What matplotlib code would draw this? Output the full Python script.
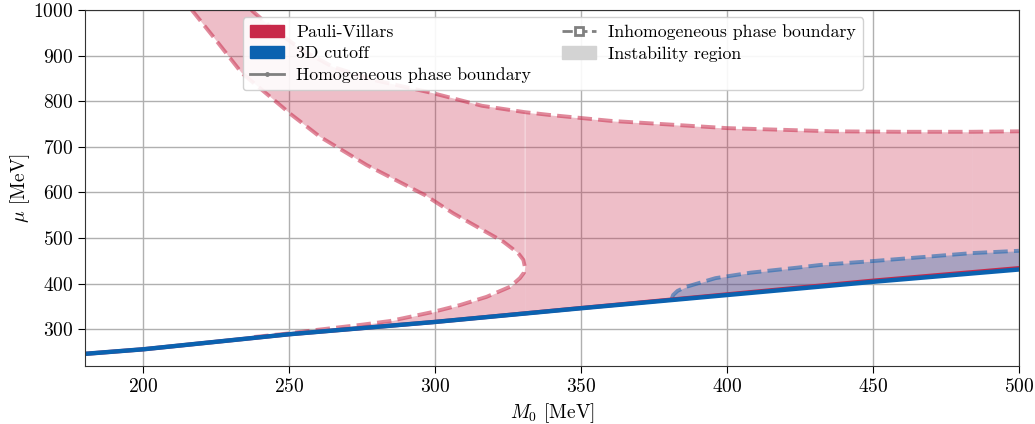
import matplotlib
matplotlib.use("Agg")
import matplotlib.pyplot as plt
import numpy as np
from matplotlib.patches import Patch
from matplotlib.lines import Line2D

plt.rcParams["font.family"] = "serif"
plt.rcParams["font.serif"] = ["cmr10"]
plt.rcParams["mathtext.fontset"] = "cm"
plt.rcParams["axes.formatter.use_mathtext"] = True
plt.rcParams["font.size"] = 14

RED = "#c8294a"
BLUE = "#0b62b0"

# homogeneous phase boundary (mu vs M0)
hom_m0 = [180, 200, 250, 300, 350, 400, 450, 500]
hom_pv = [246, 256, 289, 316, 346.5, 376.5, 406.5, 434]
hom_3d = [246, 256, 289, 316, 346, 375, 404, 431]

# Pauli-Villars inhomogeneous boundary, lower branch (homogeneous line -> nose)
pv_low_m0 = [238, 250, 260, 275, 284.5, 299.3, 308.5, 317.6, 325.6, 329, 330.4, 330.7]
pv_low_mu = [283, 291, 299, 310, 318, 338, 353, 371, 393, 412, 424, 437]
# continuation from the nose up to the top
pv_left_m0 = [330.7, 330.2, 328.4, 323.3, 315.3, 306.2, 296.5, 276.5, 260.5, 250.8,
              243.4, 233.7, 224, 216.6]
pv_left_mu = [437, 452, 467, 492, 521, 554, 594, 660, 722, 770, 810, 862, 941, 1000]
# upper branch
pv_up_m0 = [237, 245, 255, 265, 280, 299, 316, 330.7, 339, 360, 400, 436, 460, 484, 500]
pv_up_mu = [1000, 955, 910, 875, 845, 818, 790, 776, 770, 757, 741, 734, 733, 733, 734]

# 3D cutoff inhomogeneous boundary
cut_m0 = [381, 381.5, 383, 386, 396, 408, 424, 432, 451, 484, 500]
cut_mu = [366, 375, 384, 393, 412, 424, 435, 441, 450, 467, 472]

fig = plt.figure(figsize=(10.35, 4.24), dpi=100)
ax = fig.add_axes([0.0821, 0.1375, 0.9024, 0.8389])

fill_kw = dict(color=RED, alpha=0.3, linewidth=0)

# lobe between homogeneous line and lower inhomogeneous branch
lx = np.array(pv_low_m0)
ax.fill_between(lx, np.interp(lx, hom_m0, hom_pv), pv_low_mu, **fill_kw)

# band between nose-to-top branch and upper branch
nose = pv_left_m0[0]
up_x = np.array(pv_up_m0)
up_y = np.array(pv_up_mu)
sel = up_x <= nose
poly_x = np.concatenate([pv_left_m0, up_x[sel]])
poly_y = np.concatenate([pv_left_mu, up_y[sel]])
ax.fill(poly_x, poly_y, **fill_kw)

# region right of the nose, split where the data were stitched
for a, b in [(nose, 484), (484, 500)]:
    xs = np.union1d(up_x[(up_x >= a) & (up_x <= b)], [h for h in hom_m0 if a <= h <= b])
    xs = np.union1d(xs, [a, b])
    ax.fill_between(xs, np.interp(xs, hom_m0, hom_pv), np.interp(xs, up_x, up_y), **fill_kw)

# 3D cutoff instability region
cx = np.array(cut_m0)
ax.fill_between(cx, np.interp(cx, hom_m0, hom_pv), cut_mu, color=BLUE, alpha=0.3, linewidth=0)

# inhomogeneous boundaries
ax.plot(pv_low_m0 + pv_left_m0[1:], pv_low_mu + pv_left_mu[1:], "--", color=RED, alpha=0.55, lw=2.8)
ax.plot(pv_up_m0, pv_up_mu, "--", color=RED, alpha=0.55, lw=2.8)
ax.plot(cut_m0, cut_mu, "--", color=BLUE, alpha=0.55, lw=2.8)

# homogeneous boundaries
ax.plot(hom_m0, hom_pv, color=RED, lw=3)
ax.plot(hom_m0, hom_3d, color=BLUE, lw=3.2)

ax.set_xlim(180, 500)
ax.set_ylim(220, 1000)
ax.set_xticks([200, 250, 300, 350, 400, 450, 500])
ax.set_yticks([300, 400, 500, 600, 700, 800, 900, 1000])
ax.grid(True, color="#b0b0b0", lw=1)
ax.set_axisbelow(True)
ax.tick_params(direction="out", length=5, width=0.8)
for s in ax.spines.values():
    s.set_color("#333333")
ax.set_xlabel(r"$M_0$ [MeV]")
ax.set_ylabel(r"$\mu$ [MeV]", labelpad=1)

handles = [
    Patch(color=RED, label="Pauli-Villars"),
    Patch(color=BLUE, label="3D cutoff"),
    Line2D([], [], color="gray", marker="o", ms=2.5, lw=2, label="Homogeneous phase boundary"),
    Line2D([], [], color="gray", ls="--", marker="s", ms=6, mfc="white", mew=2, lw=2,
           label="Inhomogeneous phase boundary"),
    Patch(color="lightgray", label="Instability region"),
]
ax.legend(handles=handles, loc="upper center", ncol=2, bbox_to_anchor=(0.501, 0.98),
          fontsize=12.8, framealpha=0.9, columnspacing=1.75, handlelength=1.9,
          handletextpad=0.7, labelspacing=0.33, borderaxespad=0)

fig.savefig("out.png", dpi=100)
